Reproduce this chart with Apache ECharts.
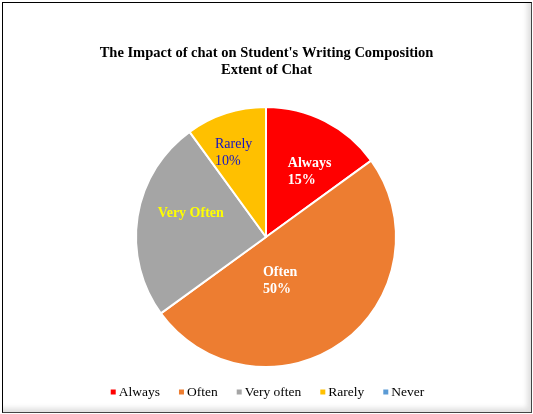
<!DOCTYPE html>
<html>
<head>
<meta charset="utf-8">
<script src="https://cdn.jsdelivr.net/npm/echarts@6/dist/echarts.min.js"></script>
<style>
html,body{margin:0;padding:0;background:#fff;}
#frame{position:absolute;left:2px;top:2px;width:528px;height:409px;border:1px solid #000;border-right-color:#444;border-bottom-color:#444;box-shadow:inset -4px -4px 5px rgba(0,0,0,0.12);}
#chart{position:absolute;left:0;top:0;width:533px;height:414px;}
</style>
</head>
<body>
<div id="frame"></div>
<div id="chart"></div>
<script>
const titleLines = ["The Impact of chat on Student's Writing Composition", "Extent of Chat"];
const categories = ["Always", "Often", "Very often", "Rarely", "Never"];
const values = [15, 50, 25, 10, 0];
const labelLines = [["Always", "15%"], ["Often", "50%"], ["Very Often"], ["Rarely", "10%"], []];
const colors = ["#FF0000", "#ED7D31", "#A5A5A5", "#FFC000", "#5B9BD5"];

const labelStyles = [
  {color:"#FFFFFF", fontWeight:"bold", w:44, offset:[13,-5]},
  {color:"#FFFFFF", fontWeight:"bold", w:38, offset:[-24,-11]},
  {color:"#FFFF00", fontWeight:"bold", w:70, offset:[-6,-13]},
  {color:"#1414C4", fontWeight:"normal", w:40, offset:[-10,-20]},
  {color:"#000", fontWeight:"normal", w:10, offset:[0,0]}
];

const font = "'Liberation Serif', 'DejaVu Serif', serif";
const chart = echarts.init(document.getElementById('chart'), null, {renderer:'canvas'});
chart.setOption({
  backgroundColor: 'transparent',
  animation: false,
  title: {
    text: titleLines.join("\n"),
    left: 'center',
    top: 40,
    textStyle: {fontFamily: font, fontSize: 14.5, fontWeight: 'bold', color: '#000', lineHeight: 17}
  },
  legend: {
    bottom: 10,
    left: 'center',
    itemWidth: 7,
    itemHeight: 7,
    itemGap: 17,
    icon: 'rect',
    data: categories,
    textStyle: {fontFamily: font, fontSize: 13.5, color: '#000', padding:[0,0,0,-3]}
  },
  series: [{
    type: 'pie',
    center: [266, 237],
    radius: 130,
    startAngle: 90,
    clockwise: true,
    avoidLabelOverlap: false,
    itemStyle: {borderColor: '#fff', borderWidth: 2},
    emphasis: {disabled: true},
    labelLine: {show: false},
    data: categories.map((c, i) => {
      const s = labelStyles[i];
      return {
        name: c,
        value: values[i],
        itemStyle: {color: colors[i]},
        label: {
          show: labelLines[i].length > 0,
          position: 'inside',
          offset: s.offset,
          formatter: labelLines[i].map(t => '{a|' + t + '}').join('\n'),
          rich: {
            a: {
              width: s.w,
              align: 'left',
              fontFamily: font,
              fontSize: 14,
              lineHeight: 17,
              color: s.color,
              fontWeight: s.fontWeight
            }
          }
        }
      };
    })
  }]
});
</script>
</body>
</html>
